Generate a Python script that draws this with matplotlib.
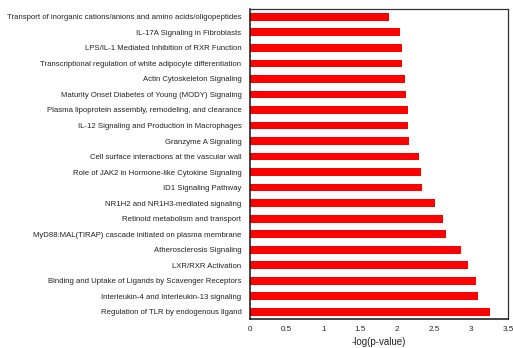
import matplotlib
matplotlib.use("Agg")
import matplotlib.pyplot as plt

# Pathways listed bottom to top
pathways = [
    "Regulation of TLR by endogenous ligand",
    "Interleukin-4 and Interleukin-13 signaling",
    "Binding and Uptake of Ligands by Scavenger Receptors",
    "LXR/RXR Activation",
    "Atherosclerosis Signaling",
    "MyD88:MAL(TIRAP) cascade initiated on plasma membrane",
    "Retinoid metabolism and transport",
    "NR1H2 and NR1H3-mediated signaling",
    "ID1 Signaling Pathway",
    "Role of JAK2 in Hormone-like Cytokine Signaling",
    "Cell surface interactions at the vascular wall",
    "Granzyme A Signaling",
    "IL-12 Signaling and Production in Macrophages",
    "Plasma lipoprotein assembly, remodeling, and clearance",
    "Maturity Onset Diabetes of Young (MODY) Signaling",
    "Actin Cytoskeleton Signaling",
    "Transcriptional regulation of white adipocyte differentiation",
    "LPS/IL-1 Mediated Inhibition of RXR Function",
    "IL-17A Signaling in Fibroblasts",
    "Transport of inorganic cations/anions and amino acids/oligopeptides",
]
neg_log_p = [3.26, 3.10, 3.07, 2.96, 2.86, 2.66, 2.62, 2.51, 2.34, 2.32,
             2.29, 2.16, 2.15, 2.15, 2.12, 2.11, 2.07, 2.06, 2.04, 1.89]
x_ticks = [0, 0.5, 1, 1.5, 2, 2.5, 3, 3.5]
x_tick_labels = ["0", "0.5", "1", "1.5", "2", "2.5", "3", "3.5"]

plt.rcParams["font.family"] = ["Liberation Sans", "DejaVu Sans"]

fig = plt.figure(figsize=(5.13, 3.48), dpi=100)
ax = fig.add_axes([0.487, 0.083, 0.503, 0.891])

ypos = list(range(len(pathways)))
ax.barh(ypos, neg_log_p, height=0.5, color="#ff0000", edgecolor="none")

ax.set_xlim(0, 3.5)
ax.set_ylim(-0.47, len(pathways) - 0.5)
ax.set_yticks(ypos)
ax.set_yticklabels(pathways, fontsize=5.6, color="#222222")
ax.set_xticks(x_ticks)
ax.set_xticklabels(x_tick_labels, fontsize=5.8, color="#222222")
ax.tick_params(axis="x", length=0, pad=5)
ax.tick_params(axis="y", length=0, pad=6)
ax.set_xlabel("-log(p-value)", fontsize=7, color="#222222", labelpad=3)

for side in ["left", "bottom"]:
    ax.spines[side].set_linewidth(1.1)
    ax.spines[side].set_color("#111111")
for side in ["top", "right"]:
    ax.spines[side].set_linewidth(0.9)
    ax.spines[side].set_color("#333333")

fig.savefig("out.png", dpi=100)
